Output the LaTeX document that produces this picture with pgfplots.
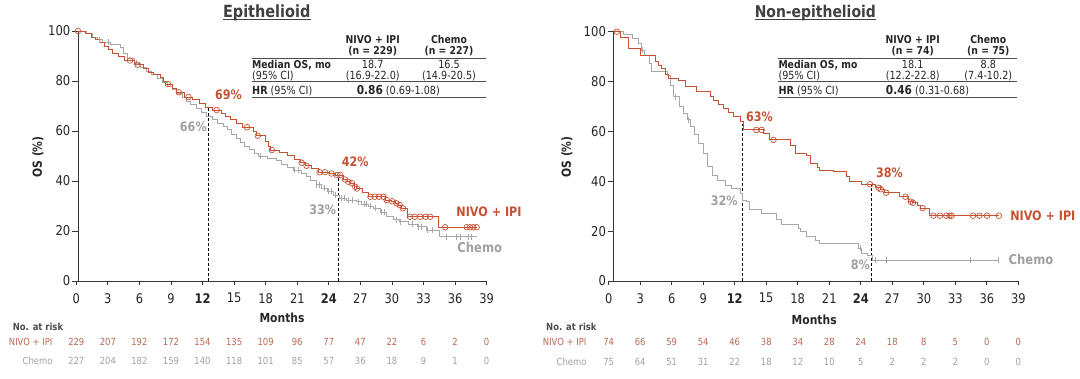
\documentclass[border=0pt]{standalone}
\usepackage{fontspec}
\setmainfont{DejaVu Sans}[FakeStretch=0.86]
\usepackage{pgfplots}
\pgfplotsset{compat=1.18}
\definecolor{nivo}{RGB}{198,82,50}
\definecolor{nivorisk}{RGB}{186,104,84}
\definecolor{chemo}{RGB}{168,168,168}
\definecolor{chemotxt}{RGB}{160,160,160}
\definecolor{axisgray}{RGB}{55,55,55}
\definecolor{titlegray}{RGB}{64,64,64}
\newcommand\fs[1]{\fontsize{#1}{#1}\selectfont}
\pgfplotsset{
  dataax/.style={anchor=south west, scale only axis, xmin=0, xmax=39, ymin=0, ymax=100,
    axis x line=none, axis y line=left, axis line style={-, axisgray, line width=0.9pt},
    xtick=\empty, ytick={0,20,...,100}, tick align=outside, major tick length=6pt,
    tick style={axisgray, line width=0.8pt},
    yticklabel style={font=\fs{13.5}, text=black!85, inner sep=1.5pt},
    /pgf/number format/assume math mode=true, clip=false},
  tickax/.style={anchor=south west, scale only axis, xmin=0, xmax=39, ymin=0, ymax=100,
    axis y line=none, axis x line=bottom, axis line style={-, axisgray, line width=0.9pt},
    ytick=\empty, xtick={0,3,...,39},
    xticklabels={0,3,6,9,\textbf{12},15,18,21,\textbf{24},27,30,33,36,39},
    tick align=outside, major tick length=4pt, tick style={axisgray, line width=0.8pt},
    xticklabel style={font=\fs{13.3}, text=black!85, inner sep=2pt, yshift=-6pt},
    /pgf/number format/assume math mode=true, clip=false},
  nivoline/.style={const plot, nivo, line width=0.9pt, mark=none},
  chemoline/.style={const plot, chemo, line width=0.9pt, mark=none},
  nivocens/.style={only marks, mark=o, mark size=2.8pt, nivo, mark options={line width=0.7pt}},
  chemocens/.style={only marks, mark=|, mark size=3pt, chemo, mark options={line width=0.7pt}},
}
\begin{document}
\begin{tikzpicture}
\useasboundingbox (0pt,0pt) rectangle (1080pt,-379pt);

% ---------------- Titles ----------------
\node[font=\bfseries\fs{16.8}, text=titlegray, anchor=base, inner sep=0pt] (t1) at (266.7pt,-17.5pt) {Epithelioid};
\draw[titlegray, line width=1.1pt] ([yshift=-2pt]t1.base west) -- ([yshift=-2pt]t1.base east);
\node[font=\bfseries\fs{16.2}, text=titlegray, anchor=base, inner sep=0pt] (t2) at (815.3pt,-17.5pt) {Non-epithelioid};
\draw[titlegray, line width=1.1pt] ([yshift=-2pt]t2.base west) -- ([yshift=-2pt]t2.base east);

% ---------------- Left panel ----------------
\begin{axis}[tickax, at={(76.3pt,-281pt)}, width=410.4pt, height=250pt]
\end{axis}
\begin{axis}[dataax, at={(78pt,-281pt)}, width=422.4pt, height=250pt]
\draw[densely dashed, black, line width=0.8pt] (axis cs:12,0) -- (axis cs:12,69);
\draw[densely dashed, black, line width=0.8pt] (axis cs:24,0) -- (axis cs:24,42);
\addplot[chemoline] coordinates {
(0,100) (0.8,99) (1.3,97.5) (1.8,96.5) (2.3,95.5) (3.0,94.5) (3.9,93.5) (4.2,91) (4.6,89)
(5.2,87) (5.8,85.5) (6.3,84) (6.8,82.5) (7.3,81) (7.8,79.5) (8.3,78) (8.7,76.5) (9.1,75)
(9.6,73.5) (10.0,72) (10.4,70.5) (10.9,69) (11.4,67.5) (11.9,66) (12.4,64.5) (12.9,63)
(13.4,62) (13.8,60.5) (14.2,58.5) (14.6,57) (15.0,55.5) (15.4,54) (15.8,52.5) (16.3,51)
(16.7,50) (17.5,49.2) (18.3,48.4) (18.8,46.8) (19.3,45.5) (19.9,44.4) (20.6,43) (21.1,41.7)
(21.5,40.4) (22.0,38.5) (22.5,37.2) (23.0,36) (23.6,34.4) (24.1,33) (24.8,32.3) (25.7,31.7)
(26.2,30.8) (26.8,29.8) (27.3,29) (27.9,27.5) (28.5,25.7) (29.1,24.5) (29.7,23.7) (30.5,22.7)
(31.3,21.7) (32.2,20.4) (33.4,17.7) (36.8,17.7)};
\addplot[chemocens] coordinates {
(2.0,96.5) (2.8,95.5) (5.4,87) (16.8,50) (19.95,44.4) (20.3,44.4) (22.0,38.5) (22.3,38.5)
(22.7,37.2) (23.1,36) (23.4,36) (23.8,34.4) (24.3,33) (24.6,33) (25.0,32.3) (25.3,32.3)
(25.9,31.7) (26.4,30.8) (26.6,30.8) (27.0,29.8) (27.5,29) (28.0,27.5) (28.3,27.5) (29.4,24.5)
(29.8,23.7) (30.9,22.7) (31.4,21.7) (31.7,21.7) (32.3,20.4) (32.7,20.4) (34.0,17.7) (34.9,17.7)
(35.3,17.7) (36.0,17.7) (36.3,17.7)};
\addplot[nivoline] coordinates {
(0,100) (0.7,99) (1.2,97.5) (1.6,96.5) (2.0,95.5) (2.4,94) (2.8,92.5) (3.2,91) (3.7,90)
(4.3,88.2) (5.2,86.5) (6.0,85) (6.5,83.5) (7.0,82.5) (7.6,81.5) (7.9,80) (8.1,78.8) (8.7,77)
(9.1,75.5) (9.8,73.6) (10.6,72.5) (11.2,71) (11.8,69.5) (12.4,68.4) (13.2,67) (13.6,66)
(14.1,64.5) (14.6,63) (15.2,61.5) (16.2,60) (16.5,58.1) (17.3,56) (17.6,54) (17.8,52.4)
(18.6,51.5) (19.3,50.3) (20.0,48.5) (20.5,47.3) (21.0,46.1) (21.6,45) (22.2,43.5) (23.2,43.0)
(23.8,42.4) (24.5,40.6) (24.85,39.7) (25.2,39.1) (25.5,37.7) (25.7,37.0) (26.3,35.5) (26.8,33.7)
(28.4,32.4) (28.9,31.9) (29.3,31.1) (29.6,30.4) (29.9,29.1) (30.4,25.7) (33.3,21.5) (36.8,21.5)};
\addplot[nivocens] coordinates {
(0,100) (4.8,88.2) (5.5,86.5) (8.3,78.8) (9.3,75.5) (10.2,73.6) (12.8,68.4) (15.6,61.5)
(16.6,58.1) (17.9,52.4) (20.65,47.3) (21.1,46.1) (22.3,43.5) (22.8,43.5) (23.4,43.0) (23.9,42.4)
(24.2,42.4) (24.65,40.6) (24.96,39.7) (25.3,39.1) (25.6,37.7) (25.75,37.0) (27.0,33.7) (27.4,33.7)
(27.8,33.7) (28.2,33.7) (28.5,32.4) (29.0,31.9) (29.4,31.1) (29.7,30.4) (30.0,29.1) (30.65,25.7)
(31.1,25.7) (31.6,25.7) (32.1,25.7) (32.5,25.7) (33.9,21.5) (35.9,21.5) (36.2,21.5) (36.5,21.5)
(36.8,21.5)};
\node[font=\bfseries\fs{13}, text=nivo] at (axis cs:13.9,74.4) {69\%};
\node[font=\bfseries\fs{13}, text=chemotxt] at (axis cs:10.65,61.5) {66\%};
\node[font=\bfseries\fs{13}, text=nivo] at (axis cs:25.6,47.7) {42\%};
\node[font=\bfseries\fs{13}, text=chemotxt] at (axis cs:22.6,28.4) {33\%};
\node[font=\bfseries\fs{13}, text=nivo] at (axis cs:37.95,27.6) {NIVO + IPI};
\node[font=\bfseries\fs{13.5}, text=chemotxt] at (axis cs:37.1,13.6) {Chemo};
\end{axis}

% ---------------- Right panel ----------------
\begin{axis}[tickax, at={(608.7pt,-281pt)}, width=409.6pt, height=249.3pt]
\end{axis}
\begin{axis}[dataax, at={(613.6pt,-281pt)}, width=418.5pt, height=249.3pt]
\draw[densely dashed, black, line width=0.8pt] (axis cs:12,0) -- (axis cs:12,63);
\draw[densely dashed, black, line width=0.8pt] (axis cs:24,0) -- (axis cs:24,38.5);
\addplot[chemoline] coordinates {
(0,100) (0.9,98.8) (1.8,97.3) (2.3,95.3) (2.6,92.6) (2.9,90.6) (3.3,87.3) (3.5,84) (5.0,82.6)
(5.3,78.6) (5.6,73.9) (6.1,69.9) (6.5,67.3) (6.9,64.6) (7.2,61.9) (7.5,58.6) (7.9,55.2) (8.4,51.2)
(8.7,45.8) (9.2,42.5) (9.7,40.5) (10.4,38.5) (11.0,37.2) (11.8,35.2) (12.05,32.5) (12.4,31.8)
(12.7,28.5) (13.8,27.1) (15.2,24.5) (15.6,22.5) (17.2,21) (17.4,19.8) (18.0,17.8) (18.8,16.4)
(19.2,15.1) (22.8,13.1) (23.1,11.1) (23.7,10.4) (24.1,8.4) (35.9,8.4)};
\addplot[chemocens] coordinates {
(2.7,92.6) (5.8,73.9) (7.0,64.6) (23.0,13.1) (24.4,8.4) (25.4,8.4) (33.2,8.4) (35.9,8.4)};
\addplot[nivoline] coordinates {
(0,100) (0.6,97.5) (1.4,93.1) (2.5,90.4) (3.9,88) (4.2,86.5) (4.5,85.3) (4.8,83) (5.1,81.3)
(6.0,80.6) (6.7,77.9) (7.7,75.9) (9.0,73.9) (9.3,72.6) (9.8,71) (10.2,69.3) (10.7,67.6)
(11.2,65.9) (11.8,63.9) (12.1,60.6) (14.0,59.2) (14.5,56.6) (16.5,54.5) (16.9,51.2) (18.0,50.5)
(18.3,47.2) (19.0,45.5) (19.2,44.5) (20.5,43.8) (21.7,41.8) (22.0,39.8) (23.1,38.8) (24.4,37.4)
(24.85,36.8) (25.2,35.4) (26.6,33.8) (27.5,31.8) (27.85,31.4) (28.3,30.2) (28.6,29.2) (29.4,26.2)
(35.9,26.2)};
\addplot[nivocens] coordinates {
(0.3,100) (13.3,60.6) (13.8,60.6) (14.9,56.6) (23.9,38.8) (24.7,37.4) (24.9,36.8) (25.4,35.4)
(27.2,33.8) (27.7,31.8) (27.9,31.4) (28.8,29.2) (29.8,26.2) (30.4,26.2) (31.0,26.2) (31.3,26.2)
(31.5,26.2) (33.5,26.2) (34.1,26.2) (34.8,26.2) (35.9,26.2)};
\node[font=\bfseries\fs{13}, text=nivo] at (axis cs:13.6,65.9) {63\%};
\node[font=\bfseries\fs{13}, text=chemotxt] at (axis cs:10.3,32.1) {32\%};
\node[font=\bfseries\fs{13}, text=nivo] at (axis cs:25.7,43.3) {38\%};
\node[font=\bfseries\fs{13}, text=chemotxt] at (axis cs:23.0,6.4) {8\%};
\node[font=\bfseries\fs{13}, text=nivo] at (axis cs:40.0,26.2) {NIVO + IPI};
\node[font=\bfseries\fs{13.5}, text=chemotxt] at (axis cs:38.9,8.8) {Chemo};
\end{axis}

% ---------------- y labels ----------------
\node[rotate=90, font=\bfseries\fs{12.5}, text=black!85] at (38pt,-157pt) {OS (\%)};
\node[rotate=90, font=\bfseries\fs{12.5}, text=black!85] at (567pt,-157pt) {OS (\%)};
% ---------------- x labels ----------------
\node[font=\bfseries\fs{12.5}, text=black!85] at (282pt,-318pt) {Months};
\node[font=\bfseries\fs{12.5}, text=black!85] at (814.2pt,-320pt) {Months};

% ---------------- Numbers at risk ----------------
\node[font=\bfseries\fs{9.8}, text=black!70, anchor=west] at (9.3pt,-327pt) {No. at risk};
\node[font=\fs{9.8}, text=nivorisk, anchor=east] at (56pt,-342.3pt) {NIVO + IPI};
\node[font=\fs{9.8}, text=chemotxt, anchor=east] at (56pt,-360.7pt) {Chemo};
\foreach \v [count=\i from 0] in {229,207,192,172,154,135,109,96,77,47,22,6,2,0}
  \node[font=\fs{9.8}, text=nivorisk] at ({(76.3+31.56*\i)*1pt},-342.3pt) {\v};
\foreach \v [count=\i from 0] in {227,204,182,159,140,118,101,85,57,36,18,9,1,0}
  \node[font=\fs{9.8}, text=chemotxt] at ({(76.3+31.56*\i)*1pt},-360.7pt) {\v};

\node[font=\bfseries\fs{9.8}, text=black!70, anchor=west] at (542.7pt,-327pt) {No. at risk};
\node[font=\fs{9.8}, text=nivorisk, anchor=east] at (590pt,-342.3pt) {NIVO + IPI};
\node[font=\fs{9.8}, text=chemotxt, anchor=east] at (590pt,-361.7pt) {Chemo};
\foreach \v [count=\i from 0] in {74,66,59,54,46,38,34,28,24,18,8,5,0,0}
  \node[font=\fs{9.8}, text=nivorisk] at ({(608.7+31.51*\i)*1pt},-342.3pt) {\v};
\foreach \v [count=\i from 0] in {75,64,51,31,22,18,12,10,5,2,2,2,0,0}
  \node[font=\fs{9.8}, text=chemotxt] at ({(608.7+31.51*\i)*1pt},-361.7pt) {\v};

% ---------------- Tables ----------------
\begin{scope}[every node/.style={inner sep=0pt, text=black!85}]
% left
\node[font=\bfseries\fs{10.8}, anchor=base] at (372.7pt,-43.5pt) {NIVO + IPI};
\node[font=\bfseries\fs{10.8}, anchor=base] at (372.7pt,-54.5pt) {(n = 229)};
\node[font=\bfseries\fs{10.8}, anchor=base] at (449pt,-43.5pt) {Chemo};
\node[font=\bfseries\fs{10.8}, anchor=base] at (449pt,-54.5pt) {(n = 227)};
\draw[black!70, line width=0.9pt] (252pt,-58.3pt) -- (486pt,-58.3pt);
\draw[black!70, line width=0.9pt] (252pt,-81.7pt) -- (486pt,-81.7pt);
\draw[black!70, line width=0.9pt] (252pt,-97.7pt) -- (486pt,-97.7pt);
\node[font=\bfseries\fs{10.8}, anchor=base west] at (252pt,-68.5pt) {Median OS, mo};
\node[font=\fs{11.2}, anchor=base west] at (252pt,-79.3pt) {(95\% CI)};
\node[font=\fs{11.2}, anchor=base] at (372.7pt,-68.5pt) {18.7};
\node[font=\fs{11.2}, anchor=base] at (372.7pt,-79.3pt) {(16.9-22.0)};
\node[font=\fs{11.2}, anchor=base] at (449pt,-68.5pt) {16.5};
\node[font=\fs{11.2}, anchor=base] at (449pt,-79.3pt) {(14.9-20.5)};
\node[font=\fs{11.2}, anchor=base west] at (252pt,-94.2pt) {\textbf{HR} (95\% CI)};
\node[font=\fs{11.2}, anchor=base] at (398.3pt,-94.2pt) {{\fs{12.3}\bfseries 0.86} (0.69-1.08)};
% right
\node[font=\bfseries\fs{10.8}, anchor=base] at (912.7pt,-43.5pt) {NIVO + IPI};
\node[font=\bfseries\fs{10.8}, anchor=base] at (912.7pt,-54.5pt) {(n = 74)};
\node[font=\bfseries\fs{10.8}, anchor=base] at (988.3pt,-43.5pt) {Chemo};
\node[font=\bfseries\fs{10.8}, anchor=base] at (988.3pt,-54.5pt) {(n = 75)};
\draw[black!70, line width=0.9pt] (778.3pt,-58.3pt) -- (1016.7pt,-58.3pt);
\draw[black!70, line width=0.9pt] (778.3pt,-81.7pt) -- (1016.7pt,-81.7pt);
\draw[black!70, line width=0.9pt] (778.3pt,-97.7pt) -- (1016.7pt,-97.7pt);
\node[font=\bfseries\fs{10.8}, anchor=base west] at (778.3pt,-68.5pt) {Median OS, mo};
\node[font=\fs{11.2}, anchor=base west] at (778.3pt,-79.3pt) {(95\% CI)};
\node[font=\fs{11.2}, anchor=base] at (912.7pt,-68.5pt) {18.1};
\node[font=\fs{11.2}, anchor=base] at (912.7pt,-79.3pt) {(12.2-22.8)};
\node[font=\fs{11.2}, anchor=base] at (988.3pt,-68.5pt) {8.8};
\node[font=\fs{11.2}, anchor=base] at (988.3pt,-79.3pt) {(7.4-10.2)};
\node[font=\fs{11.2}, anchor=base west] at (778.3pt,-94.2pt) {\textbf{HR} (95\% CI)};
\node[font=\fs{11.2}, anchor=base] at (927.5pt,-94.2pt) {{\fs{12.3}\bfseries 0.46} (0.31-0.68)};
\end{scope}
\end{tikzpicture}
\end{document}
